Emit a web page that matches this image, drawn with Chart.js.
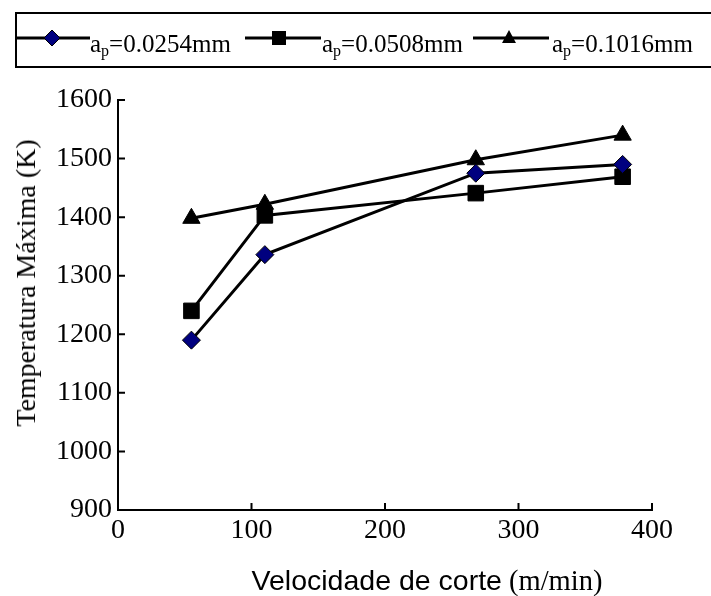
<!DOCTYPE html>
<html>
<head>
<meta charset="utf-8">
<script src="https://cdn.jsdelivr.net/npm/chart.js@4"></script>
<style>
  body { margin: 0; background: #fff; }
  #wrap { position: relative; width: 711px; height: 596px; overflow: hidden; }
  #chart { position: absolute; left: 0; top: 0; }
  #legendBox {
    position: absolute; left: 15px; top: 12px; width: 720px; height: 56px;
    border: 2px solid #000; box-sizing: border-box;
  }
  .lg { position: absolute; top: 26px; }
  .lt {
    position: absolute; top: 31px; line-height: 1; white-space: nowrap;
    font-family: "Liberation Serif", "DejaVu Serif", serif; font-size: 25px; color: #000;
  }
  .lt sub { font-size: 16px; vertical-align: -4px; line-height: 1; }
  #ytitle {
    position: absolute; left: 26px; top: 283px; transform: translate(-50%, -50%) rotate(-90deg);
    font-family: "Liberation Serif", serif; font-size: 28px; white-space: nowrap; line-height: 1;
  }
  #xtitle {
    position: absolute; left: 427px; top: 566px; transform: translateX(-50%);
    font-size: 28.5px; white-space: nowrap; line-height: 1;
  }
  #xtitle .s { font-family: "Liberation Sans", Arial, sans-serif; }
  #xtitle .r { font-family: "Liberation Serif", serif; }
</style>
</head>
<body>
<div id="wrap">
  <canvas id="chart" width="711" height="596"></canvas>
  <div id="legendBox"></div>
  <svg class="lg" style="left:15px" width="80" height="24"><line x1="0" y1="12" x2="75" y2="12" stroke="#000" stroke-width="3"/><polygon points="37,4 45,12 37,20 29,12" fill="#00007f" stroke="#000" stroke-width="1"/></svg>
  <div class="lt" style="left:90px">a<sub>p</sub>=0.0254mm</div>
  <svg class="lg" style="left:245px" width="80" height="24"><line x1="0" y1="12" x2="76" y2="12" stroke="#000" stroke-width="3"/><rect x="27" y="5" width="14" height="14" fill="#000"/></svg>
  <div class="lt" style="left:322px">a<sub>p</sub>=0.0508mm</div>
  <svg class="lg" style="left:473px" width="80" height="24"><line x1="0" y1="12" x2="76" y2="12" stroke="#000" stroke-width="3"/><polygon points="36,4 43,17 29,17" fill="#000"/></svg>
  <div class="lt" style="left:552px">a<sub>p</sub>=0.1016mm</div>
  <div id="ytitle">Temperatura Máxima (K)</div>
  <div id="xtitle"><span class="s">Velocidade de corte</span> <span class="r">(m/min)</span></div>
</div>
<script>
const speeds = [55, 110, 268, 378];
const temps0254 = [1190, 1336, 1475, 1490];
const temps0508 = [1240, 1403, 1441, 1469];
const temps1016 = [1398, 1422, 1498, 1540];
const xTicks = [0, 100, 200, 300, 400];
const yTicks = [900, 1000, 1100, 1200, 1300, 1400, 1500, 1600];

function pts(ys) {
  return speeds.map((x, i) => ({ x: x, y: ys[i] }));
}

// ticks point into the plot, so draw them by hand from the scale
const innerTicks = {
  id: 'innerTicks',
  afterDraw(chart) {
    const ctx = chart.ctx;
    const xs = chart.scales.x, ys = chart.scales.y;
    ctx.save();
    ctx.strokeStyle = '#000';
    ctx.lineWidth = 2;
    ctx.beginPath();
    xTicks.forEach(v => {
      const px = xs.getPixelForValue(v);
      ctx.moveTo(px, ys.bottom);
      ctx.lineTo(px, ys.bottom - 7);
    });
    yTicks.forEach(v => {
      const py = ys.getPixelForValue(v);
      ctx.moveTo(xs.left, py);
      ctx.lineTo(xs.left + 7, py);
    });
    ctx.stroke();
    ctx.restore();
  }
};

const tickFont = { family: '"Liberation Serif", serif', size: 28 };

new Chart(document.getElementById('chart'), {
  type: 'line',
  data: {
    datasets: [
      { label: 'ap=0.0254mm', data: pts(temps0254), borderColor: '#000', borderWidth: 3,
        pointStyle: 'rectRot', pointRadius: 9, pointBackgroundColor: '#00007f', pointBorderColor: '#000', pointBorderWidth: 1 },
      { label: 'ap=0.0508mm', data: pts(temps0508), borderColor: '#000', borderWidth: 3,
        pointStyle: 'rect', pointRadius: 11, pointBackgroundColor: '#000', pointBorderColor: '#000', pointBorderWidth: 1 },
      { label: 'ap=0.1016mm', data: pts(temps1016), borderColor: '#000', borderWidth: 3,
        pointStyle: 'triangle', pointRadius: 10, pointBackgroundColor: '#000', pointBorderColor: '#000', pointBorderWidth: 1 }
    ]
  },
  options: {
    responsive: false,
    animation: false,
    layout: { padding: { top: 100, right: 59, left: 0, bottom: 0 } },
    plugins: { legend: { display: false }, tooltip: { enabled: false } },
    scales: {
      x: {
        type: 'linear', min: 0, max: 400,
        afterBuildTicks: s => { s.ticks = xTicks.map(v => ({ value: v })); },
        afterFit: s => { s.height = 86; },
        grid: { display: false, drawTicks: false },
        border: { display: true, color: '#000', width: 2 },
        ticks: { color: '#000', font: tickFont, padding: 4, maxRotation: 0, callback: v => String(v) }
      },
      y: {
        type: 'linear', min: 900, max: 1600,
        afterBuildTicks: s => { s.ticks = yTicks.map(v => ({ value: v })); },
        afterFit: s => { s.width = 118; },
        grid: { display: false, drawTicks: false },
        border: { display: true, color: '#000', width: 2 },
        ticks: { color: '#000', font: tickFont, padding: 6, callback: v => String(v) }
      }
    }
  },
  plugins: [innerTicks]
});
</script>
</body>
</html>
